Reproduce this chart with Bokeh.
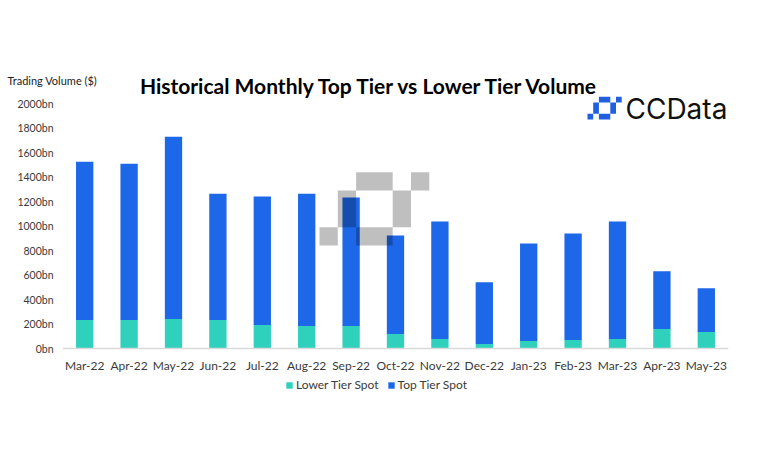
from bokeh.plotting import figure
from bokeh.models import (FactorRange, Range1d, Label, BoxAnnotation, Legend, LegendItem,
                          FixedTicker, PrintfTickFormatter, ColumnDataSource)
from bokeh.embed import file_html
from bokeh.resources import INLINE

# ---- data (in $bn) ----
months = ["Mar-22", "Apr-22", "May-22", "Jun-22", "Jul-22", "Aug-22", "Sep-22", "Oct-22",
          "Nov-22", "Dec-22", "Jan-23", "Feb-23", "Mar-23", "Apr-23", "May-23"]
lower_tier = [232, 232, 240, 232, 191, 183, 183, 118, 77, 37, 61, 69, 77, 159, 134]
top_tier = [1292, 1276, 1488, 1032, 1049, 1081, 1049, 805, 960, 504, 797, 870, 960, 471, 358]
y_ticks = [0, 200, 400, 600, 800, 1000, 1200, 1400, 1600, 1800, 2000]
series_names = ["Lower Tier Spot", "Top Tier Spot"]
title_text = "Historical Monthly Top Tier vs Lower Tier Volume"
y_title = "Trading Volume ($)"
brand = "CCData"

TEAL = "#2fd1bd"
BLUE = "#1d67e9"
FONT = "Lato"

# ---- layout (pixels) ----
W, H = 760, 455
FRAME_LEFT, FRAME_RIGHT = 62, 728
FRAME_TOP, FRAME_BOTTOM = 95, 410   # frame extends below the baseline to hold the legend
ZERO_Y = 348                        # canvas y of the 0bn baseline
AXIS_PX = 245                       # pixels between 0bn and 2000bn
bn_per_px = y_ticks[-1] / AXIS_PX
y_start = -(FRAME_BOTTOM - ZERO_Y) * bn_per_px
y_end = (ZERO_Y - FRAME_TOP) * bn_per_px

source = ColumnDataSource(dict(month=months, lower=lower_tier, top=top_tier))

p = figure(x_range=FactorRange(*months), y_range=Range1d(y_start, y_end),
           width=W, height=H, output_backend="svg", toolbar_location=None,
           min_border_left=FRAME_LEFT, min_border_right=W - FRAME_RIGHT,
           min_border_top=FRAME_TOP, min_border_bottom=H - FRAME_BOTTOM)
p.title.visible = False
p.outline_line_color = None
p.background_fill_color = "white"
p.border_fill_color = "white"
p.xgrid.grid_line_color = None
p.ygrid.grid_line_color = None

rs = p.vbar_stack(["lower", "top"], x="month", width=0.39, color=[TEAL, BLUE],
                  line_color=None, source=source)

p.yaxis.ticker = FixedTicker(ticks=y_ticks)
p.yaxis.formatter = PrintfTickFormatter(format="%dbn")
p.yaxis.axis_line_color = None
p.yaxis.major_tick_line_color = None
p.yaxis.minor_tick_line_color = None
p.yaxis.major_tick_out = 0
p.yaxis.major_label_standoff = 9
p.yaxis.major_label_text_font = FONT
p.yaxis.major_label_text_font_size = "10.5px"
p.yaxis.major_label_text_color = "#3a3a3a"

p.xaxis.fixed_location = 0
p.xaxis.axis_line_color = "#d9d9d9"
p.xaxis.axis_line_width = 1.5
p.xaxis.major_tick_line_color = None
p.xaxis.minor_tick_line_color = None
p.xaxis.major_tick_out = 0
p.xaxis.major_label_standoff = 9
p.xaxis.major_label_text_font = FONT
p.xaxis.major_label_text_font_size = "12px"
p.xaxis.major_label_text_color = "#3a3a3a"

legend = Legend(items=[LegendItem(label=series_names[0], renderers=[rs[0]]),
                       LegendItem(label=series_names[1], renderers=[rs[1]])],
                orientation="horizontal", location=(223, FRAME_BOTTOM - 392),
                border_line_color=None, background_fill_alpha=0,
                padding=0, margin=0, spacing=8, glyph_width=8, glyph_height=8,
                label_standoff=3, label_text_font=FONT, label_text_font_size="12px",
                label_text_color="#3a3a3a", label_height=12)
p.add_layout(legend, "center")

# header texts live in the panel above the frame
p.add_layout(Label(x=370 - FRAME_LEFT, y=FRAME_TOP - 85, x_units="screen", y_units="screen",
                   text=title_text, text_font=FONT, text_font_style="bold",
                   text_font_size="21px", text_color="#000000",
                   text_align="center", text_baseline="middle"), "above")
# second item of the above panel sits on top of the title's slot (about 25px high)
p.add_layout(Label(x=7 - FRAME_LEFT, y=-10, x_units="screen", y_units="screen",
                   text=y_title, text_font=FONT, text_font_size="11px",
                   text_color="#222222", text_align="left", text_baseline="middle"), "above")

# brand text inside the frame (y up from frame bottom)
p.add_layout(Label(x=625 - FRAME_LEFT, y=FRAME_BOTTOM - 108, x_units="screen",
                   y_units="screen", text=brand, text_font="Inter",
                   text_font_size="28px", text_color="#111111",
                   text_align="left", text_baseline="middle"))

# logo pattern (decoration): cells as (col, row, width, height)
cells = [(0, 0, 1, 1), (1, 1, 1, 2), (2, 0, 2, 1), (2, 3, 2, 1), (4, 1, 1, 2), (5, 3, 1, 1)]


def draw_logo(x0, y0, u, color, alpha):
    for c, r, w, hh in cells:
        p.add_layout(BoxAnnotation(left=x0 + c * u, right=x0 + (c + w) * u,
                                   bottom=y0 + r * u, top=y0 + (r + hh) * u,
                                   left_units="screen", right_units="screen",
                                   bottom_units="screen", top_units="screen",
                                   fill_color=color, fill_alpha=alpha, line_color=None,
                                   propagate_hover=False))


draw_logo(587 - FRAME_LEFT, FRAME_BOTTOM - 119, 5.7, "#1f5fe0", 1.0)
draw_logo(319 - FRAME_LEFT, FRAME_BOTTOM - 245, 18.3, "#000000", 0.25)

open("out.html", "w").write(file_html(p, INLINE))
